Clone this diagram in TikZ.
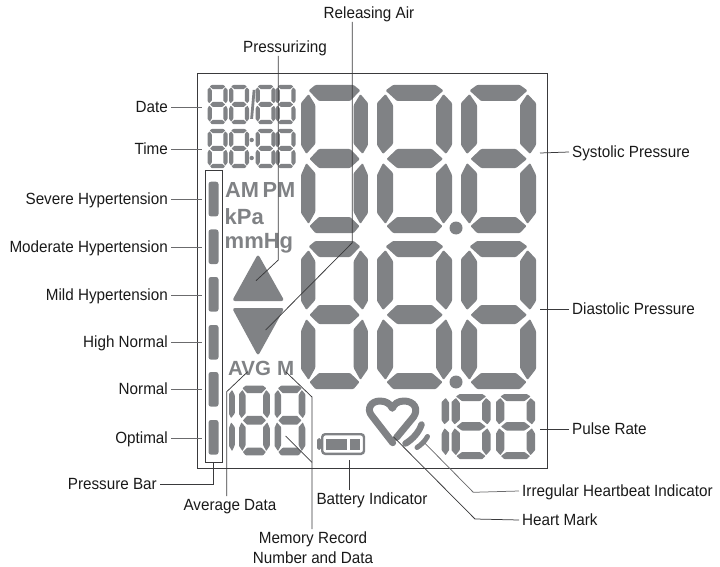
\documentclass[tikz,border=0pt]{standalone}
\usepackage{fontspec}
\setmainfont[FakeStretch=0.94]{Liberation Sans}
\newfontfamily\lcdfont{Liberation Sans}
\usepackage{xcolor}
\usetikzlibrary{positioning,calc}
\definecolor{lcd}{HTML}{808285}
\definecolor{ldr}{HTML}{3A3A3C}
\tikzset{
  lcd/.pic={
    \fill[lcd, rounded corners=#1]
      (8.5,5.5) -- (16,0) -- (59,0) -- (66.5,5.5) -- (55,16) -- (20,16) -- cycle
      (9.5,74) -- (20,64) -- (55,64) -- (66,74) -- (55,83) -- (20,83) -- cycle
      (9.5,141) -- (20,132) -- (55,132) -- (65.5,141) -- (59,148) -- (16,148) -- cycle
      (8.5,9) -- (16,20) -- (16,59) -- (6,69) -- (0,60) -- (0,18) -- cycle
      (6,78) -- (16,88) -- (16,127) -- (8.5,139) -- (0,128) -- (0,90) -- cycle
      (66.5,9) -- (59,20) -- (59,59) -- (69,69) -- (75,60) -- (75,18) -- cycle
      (69,78) -- (59,88) -- (59,127) -- (66.5,139) -- (75,128) -- (75,90) -- cycle;
  },
  lcdone/.pic={
    \fill[lcd, rounded corners=#1]
      (8.5,9) -- (16,20) -- (16,59) -- (6,69) -- (0,60) -- (0,18) -- cycle
      (6,78) -- (16,88) -- (16,127) -- (8.5,139) -- (0,128) -- (0,90) -- cycle;
  }
}

\begin{document}
\begin{tikzpicture}[
  x=1pt, y=-1pt,
  lab/.style={font=\fontsize{16.2}{19.5}\selectfont, text=black!90, inner sep=3pt, text height=11.5pt, text depth=0pt},
  lablft/.style={lab, anchor=east},
  labrgt/.style={lab, anchor=west},
  lcdtxt/.style={font=\lcdfont\bfseries\fontsize{#1}{#1}\selectfont, text=lcd, inner sep=0pt, anchor=base west},
  seg/.style={fill=lcd, rounded corners=2.5pt},
  ldr/.style={draw=ldr, line width=0.75pt},
  ldrg/.style={draw=ldr!75, line width=0.75pt}
]
\useasboundingbox (0,0) rectangle (720,567);
\draw[ldr, line width=1pt] (197.3,74) rectangle (547.7,468.3);

\foreach \py in {85,241} {
  \pic[xscale=0.893] at (301,\py) {lcd=1pt};
  \pic at (377,\py) {lcd=1pt};
  \pic at (461,\py) {lcd=1pt};
}
\fill[lcd] (456,228) circle (6.5);
\fill[lcd] (456,382) circle (6.5);

\foreach \py in {85,129} {
  \pic[xscale=0.267,yscale=0.264] at (207.5,\py) {lcd=0.3pt};
  \pic[xscale=0.267,yscale=0.264] at (229,\py) {lcd=0.3pt};
  \pic[xscale=0.267,yscale=0.264] at (255.5,\py) {lcd=0.3pt};
  \pic[xscale=0.267,yscale=0.264] at (275.5,\py) {lcd=0.3pt};
}
\fill[lcd] (250.2,119) -- (253,119) -- (255.5,90) -- (252.7,90) -- cycle;
\fill[lcd] (251.7,140) circle (2.2);
\fill[lcd] (251.7,158) circle (2.2);

\pic[xscale=0.41,yscale=0.47] at (239,385.7) {lcd=0.5pt};
\pic[xscale=0.41,yscale=0.47] at (274.5,385.7) {lcd=0.5pt};
\pic[xscale=0.36,yscale=0.47] at (229,385.7) {lcdone=0.5pt};
\pic[xscale=0.52,yscale=0.44] at (451.5,394) {lcd=0.5pt};
\pic[xscale=0.52,yscale=0.44] at (496,394) {lcd=0.5pt};
\pic[xscale=0.47,yscale=0.44] at (441.7,394) {lcdone=0.5pt};

\draw[ldr, line width=0.8pt] (205,170.7) rectangle (222,462.7);
\foreach \py in {181.7,229.4,277,325,372,420} {
  \fill[seg] (208.5,\py) rectangle ++(10,34.7);
}

\node[lcdtxt=21.8] (am) at (225,197.3) {AM};
\node[lcdtxt=21.8] (pm) at (262.5,197.3) {PM};
\node[lcdtxt=22] (kpa) at (224.5,224) {kPa};
\node[lcdtxt=22] (mmhg) at (224.5,248) {mmHg};
\node[lcdtxt=20.5] (avg) at (228,375.7) {AVG};
\node[lcdtxt=20.5] (mem) at (277,375.7) {M};

\fill[lcd, rounded corners=3pt] (258,254) -- (284.5,301) -- (232,301) -- cycle;
\fill[lcd, rounded corners=3pt] (232,308) -- (284.5,308) -- (258,356) -- cycle;

\draw[lcd, line width=2.4pt, rounded corners=3pt] (322.2,434.2) rectangle (364,453.8);
\fill[lcd, rounded corners=1.5pt] (321,438) -- (317,438.5) -- (317,449.5) -- (321,450) -- cycle;
\fill[lcd] (326,439) rectangle (346.7,450);
\fill[lcd] (350,439) rectangle (360,450);

\draw[lcd, line width=7pt, line cap=round, line join=round]
  (396.7,437.3) -- (413.5,417) .. controls (419,409) and (414,401) .. (404,401)
  .. controls (398,401) and (394,404) .. (392.3,408.3)
  .. controls (390.5,404) and (386,401) .. (380,401)
  .. controls (371,401) and (366,409) .. (372,416) -- (392.7,442.7);
\draw[lcd, line width=6.5pt, line cap=round] (405.5,443.5) .. controls (413,439) and (419,432) .. (421.5,424.5);
\draw[lcd, line width=5pt, line cap=round] (417,447.5) .. controls (421,445) and (425,441) .. (427.5,436.5);

\node[lablft] (date) at (171,107) {Date};
\node[lablft] (time) at (171,149) {Time};
\node[lablft] (severe) at (171,199) {Severe Hypertension};
\node[lablft] (moderate) at (171,247) {Moderate Hypertension};
\node[lablft] (mild) at (171,295) {Mild Hypertension};
\node[lablft] (highnormal) at (171,342) {High Normal};
\node[lablft] (normal) at (171,389) {Normal};
\node[lablft] (optimal) at (171,438) {Optimal};
\node[lablft] (pbar) at (160,484) {Pressure Bar};
\node[lab] (avgdata) at (230,505) {Average Data};
\node[lab] (battery) at (372,499) {Battery Indicator};
\node[font=\fontsize{16.2}{19.5}\selectfont, text=black!90, inner sep=3pt, align=center, anchor=north] (memory) at (313,529) {Memory Record\\Number and Data};
\node[lab] (pressurizing) at (285,47) {Pressurizing};
\node[lab] (releasing) at (369,13) {Releasing Air};
\node[labrgt] (systolic) at (569,152) {Systolic Pressure};
\node[labrgt] (diastolic) at (569,309) {Diastolic Pressure};
\node[labrgt] (pulse) at (569,429) {Pulse Rate};
\node[labrgt] (irregular) at (519,491) {Irregular Heartbeat Indicator};
\node[labrgt] (heartmark) at (519,520) {Heart Mark};

\coordinate (dateend) at (202,107);
\coordinate (timeend) at (202,149);
\coordinate (severeend) at (202,199);
\coordinate (moderateend) at (202,247);
\coordinate (mildend) at (202,295);
\coordinate (highnormalend) at (202,342);
\coordinate (normalend) at (202,389);
\coordinate (optimalend) at (202,438);
\foreach \nm in {date,time,severe,moderate,mild,highnormal,normal,optimal} {
  \draw[ldrg] (\nm.east) -- (\nm end);
}
\coordinate (barend) at (213,462.7);
\draw[ldr] (pbar.east) -| (barend);
\coordinate (avgelbow) at (226.7,391.7);
\coordinate (avgend) at (247.7,371.7);
\draw[ldr] (avgdata.north -| avgelbow) -- (avgelbow) -- (avgend);
\coordinate (memelbow) at (312,397);
\coordinate (memend) at (286,372);
\coordinate (memfork) at (312,462.3);
\coordinate (memdata) at (285.7,436);
\draw[ldr] (memory.north -| memelbow) -- (memelbow) -- (memend);
\draw[ldr] (memfork) -- (memdata);
\coordinate (batend) at (349.3,460);
\draw[ldr] (battery.north -| batend) -- (batend);
\coordinate (presselbow) at (278.3,260);
\coordinate (pressend) at (256,280.7);
\draw[ldr] (pressurizing.south -| presselbow) -- (presselbow) -- (pressend);
\coordinate (relelbow) at (352.3,242.7);
\coordinate (relend) at (265.7,330);
\draw[ldr] (releasing.south -| relelbow) -- (relelbow) -- (relend);
\coordinate (sysend) at (540,153);
\coordinate (diaend) at (540,309);
\coordinate (pulend) at (540,429);
\draw[ldr] (systolic.west) -- (sysend);
\draw[ldr] (diastolic.west) -- (diaend);
\draw[ldr] (pulse.west) -- (pulend);
\coordinate (irrelbow) at (473.3,492.3);
\coordinate (irrend) at (425,443.3);
\draw[ldrg] (irregular.west) -- (irrelbow) -- (irrend);
\coordinate (heartelbow) at (475,519);
\coordinate (heartend) at (393.3,436.7);
\draw[ldr] (heartmark.west) -- (heartelbow) -- (heartend);
\end{tikzpicture}
\end{document}
